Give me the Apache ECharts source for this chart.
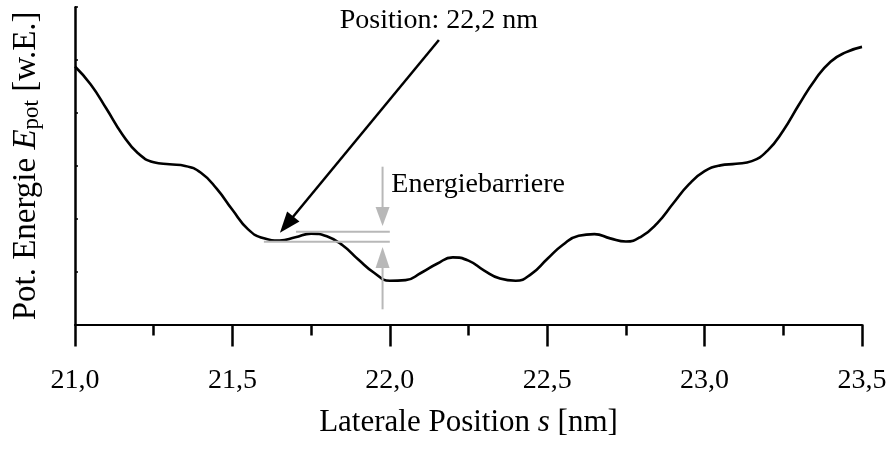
<!DOCTYPE html>
<html>
<head>
<meta charset="utf-8">
<script src="https://cdn.jsdelivr.net/npm/echarts@6/dist/echarts.min.js"></script>
<style>html,body{margin:0;padding:0;background:#fff}#c{width:890px;height:456px}</style>
</head>
<body>
<div id="c"></div>
<script>
// Data (lateral position s in nm, potential energy in arbitrary units)
const sValues = [21.00,21.05,21.10,21.15,21.20,21.25,21.30,21.35,21.40,21.45,21.50,21.55,21.60,21.65,21.70,21.75,21.80,21.85,21.90,21.95,22.00,22.05,22.10,22.15,22.20,22.25,22.30,22.35,22.40,22.45,22.50,22.55,22.60,22.65,22.70,22.75,22.80,22.85,22.90,22.95,23.00,23.05,23.10,23.15,23.20,23.25,23.30,23.35,23.40,23.45,23.50];
const eValues = [4.88,4.54,4.08,3.60,3.24,3.07,3.03,3.00,2.87,2.57,2.17,1.80,1.63,1.59,1.65,1.72,1.67,1.50,1.23,0.98,0.83,0.84,0.98,1.15,1.27,1.21,1.02,0.87,0.83,0.96,1.24,1.51,1.68,1.71,1.63,1.57,1.67,1.92,2.29,2.65,2.90,3.01,3.04,3.09,3.29,3.67,4.16,4.62,4.97,5.15,5.25];
const xTicks = [21.0, 21.5, 22.0, 22.5, 23.0, 23.5];
const xLabels = ['21,0','21,5','22,0','22,5','23,0','23,5'];

// Annotations (data coordinates)
const posText = 'Position: 22,2 nm';
const posTextAt = [22.156, 5.74];
const arrowStart = [22.156, 5.38];
const arrowTip = [21.651, 1.737];
const barrierText = 'Energiebarriere';
const barrierTextAt = [22.005, 2.655];
const barrierLow = {from: 21.600, to: 22.0, e: 1.567};
const barrierHigh = {from: 21.702, to: 22.0, e: 1.756};
const barrierArrowS = 21.977;
const barrierTopArrow = [2.985, 1.863];
const barrierBottomArrow = [0.289, 1.467];

const FONT = "'Liberation Serif','Times New Roman',serif";
const chart = echarts.init(document.getElementById('c'));

const option = {
  animation: false,
  backgroundColor: '#fff',
  grid: {left: 75, right: 28, top: 7.2, bottom: 131.4},
  xAxis: {
    type: 'value', min: 21, max: 23.5, interval: 0.5,
    axisLine: {lineStyle: {color: '#000', width: 2}},
    axisTick: {length: 22, lineStyle: {color: '#000', width: 2.5}},
    minorTick: {show: true, splitNumber: 2, length: 11, lineStyle: {color: '#000', width: 2.5}},
    splitLine: {show: false},
    axisLabel: {margin: 42, color: '#000', fontFamily: FONT, fontSize: 28,
      formatter: v => { const i = xTicks.findIndex(t => Math.abs(t - v) < 1e-6); return i >= 0 ? xLabels[i] : ''; }},
    name: 'Laterale Position {i|s} [nm]',
    nameLocation: 'middle', nameGap: 83,
    nameTextStyle: {color: '#000', fontFamily: FONT, fontSize: 31, verticalAlign: 'top',
      rich: {i: {fontStyle: 'italic', fontFamily: FONT, fontSize: 31, color: '#000'}}}
  },
  yAxis: {
    type: 'value', min: 0, max: 6, interval: 1,
    axisLine: {show: true, lineStyle: {color: '#000', width: 2.5}},
    axisTick: {show: true, inside: true, length: 3, lineStyle: {color: '#000', width: 1.5}},
    axisLabel: {show: false},
    splitLine: {show: false},
    name: 'Pot. Energie {i|E}{sub|pot} [w.E.]',
    nameLocation: 'middle', nameGap: 32, nameRotate: 90,
    nameTextStyle: {color: '#000', fontFamily: FONT, fontSize: 33, lineHeight: 34, verticalAlign: 'bottom',
      rich: {
        i: {fontStyle: 'italic', fontFamily: FONT, fontSize: 33, color: '#000', lineHeight: 34},
        sub: {fontFamily: FONT, fontSize: 23, color: '#000', lineHeight: 16, verticalAlign: 'bottom'}
      }}
  },
  series: [{
    type: 'line',
    data: sValues.map((s, i) => [s, eValues[i]]),
    smooth: 0.5,
    symbol: 'none',
    lineStyle: {color: '#000', width: 2.6},
    z: 3
  }]
};
chart.setOption(option);

function px(p) { return chart.convertToPixel({seriesIndex: 0}, p); }
function arrow(from, to, len, wid, color, lw) {
  const dx = to[0] - from[0], dy = to[1] - from[1];
  const L = Math.hypot(dx, dy), ux = dx / L, uy = dy / L;
  const bx = to[0] - ux * len, by = to[1] - uy * len;
  const nx = -uy, ny = ux;
  return [
    {type: 'line', silent: true, z: 10, shape: {x1: from[0], y1: from[1], x2: bx + ux * 2, y2: by + uy * 2}, style: {stroke: color, lineWidth: lw}},
    {type: 'polygon', silent: true, z: 10, shape: {points: [[to[0], to[1]], [bx + nx * wid / 2, by + ny * wid / 2], [bx - nx * wid / 2, by - ny * wid / 2]]}, style: {fill: color}}
  ];
}
const GRAY = '#b8b8b8';
const g = [];
[barrierLow, barrierHigh].forEach(b => {
  const a = px([b.from, b.e]), c = px([b.to, b.e]);
  g.push({type: 'line', silent: true, z: 9, shape: {x1: a[0], y1: a[1], x2: c[0], y2: c[1]}, style: {stroke: GRAY, lineWidth: 2}});
});
g.push(...arrow(px([barrierArrowS, barrierTopArrow[0]]), px([barrierArrowS, barrierTopArrow[1]]), 19, 14, GRAY, 2));
g.push(...arrow(px([barrierArrowS, barrierBottomArrow[0]]), px([barrierArrowS, barrierBottomArrow[1]]), 21, 14, GRAY, 2));
g.push(...arrow(px(arrowStart), px(arrowTip), 21, 16, '#000', 2.5));
const pt = px(posTextAt);
g.push({type: 'text', silent: true, z: 10, x: pt[0], y: pt[1], style: {text: posText, fill: '#000', font: '28px ' + FONT, textAlign: 'center', textVerticalAlign: 'middle'}});
const bt = px(barrierTextAt);
g.push({type: 'text', silent: true, z: 10, x: bt[0], y: bt[1], style: {text: barrierText, fill: '#000', font: '28px ' + FONT, textAlign: 'left', textVerticalAlign: 'middle'}});
chart.setOption({graphic: {elements: g}});
</script>
</body>
</html>
